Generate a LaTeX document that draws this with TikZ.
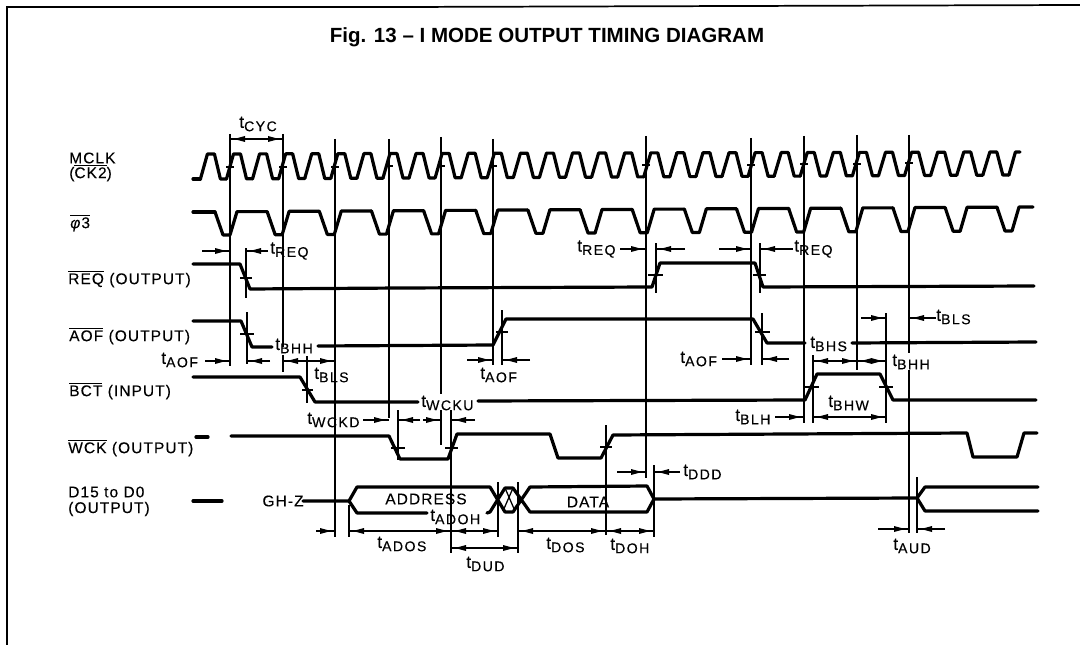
\documentclass[tikz,border=0pt]{standalone}
\usepackage{fontspec}
\setmainfont{Liberation Sans}[LetterSpace=7,FakeBold=0.25]
\newfontfamily\titlefont{Liberation Sans}
\newfontfamily\subfont{Liberation Sans}[LetterSpace=10,FakeBold=0.25]
\newcommand{\tl}[1]{{\fontsize{13}{14}\selectfont t}\raisebox{-2.5pt}{\subfont\fontsize{10.6}{11}\selectfont #1}}
\newcommand{\ovl}[1]{$\overline{\mbox{#1}}$}
\newcommand{\arw}[3]{%
  \draw[thinln] (#1,#3)--(#2,#3);
  \pgfmathsetmacro\adir{(#2>#1)?1:-1}
  \fill ({#2-4*\adir},#3)--({#2-15*\adir},{#3-3})--({#2-15*\adir},{#3+3})--cycle;}
\tikzset{
  sig/.style={line width=2.4pt,line join=round,line cap=round},
  thinln/.style={line width=0.95pt},
  lab/.style={inner sep=0pt,font=\fontsize{11.6}{13}\selectfont},
  tim/.style={inner sep=0pt,font=\fontsize{11.4}{13}\selectfont},
  ttl/.style={inner sep=0pt,font=\titlefont\bfseries\fontsize{15.4}{17}\selectfont},
}
\begin{document}
\begin{tikzpicture}[x=0.75pt,y=-0.75pt]
\useasboundingbox (0,0) rectangle (1080,645);
% frame
\draw[line width=1.3pt] (7,645)--(7,7)--(400,7)--(1080,5);
\node[ttl] (title) at (547,37) {Fig. 13 – I MODE OUTPUT TIMING DIAGRAM};
% signal names
\node[lab,anchor=west] (mclk) at (69,158) {MCLK};
\node[lab,anchor=west] (ck) at (69,173) {(\ovl{CK2})};
\node[lab,anchor=west] (phi) at (70,223) {\ovl{\textit{φ}3}};
\node[lab,anchor=west] (req) at (68,279) {\ovl{REQ} (OUTPUT)};
\node[lab,anchor=west] (aof) at (69,336) {\ovl{AOF} (OUTPUT)};
\node[lab,anchor=west] (bct) at (69,391) {\ovl{BCT} (INPUT)};
\node[lab,anchor=west] (wck) at (68,448) {\ovl{WCK} (OUTPUT)};
\node[lab,anchor=west] (dd) at (68,492) {D15 to D0};
\node[lab,anchor=west] (ddo) at (68,509) {(OUTPUT)};
% MCLK
\foreach \k in {-1,...,29}{
  \pgfmathsetmacro\c{230+26.08*\k}
  \pgfmathsetmacro\hi{154-(\c-200)*0.0025}
  \pgfmathsetmacro\lo{179-(\c-200)*0.005}
  \draw[sig] ({\c-3.5},\lo)--({\c+3.5},\hi)--({\c+10.5},\hi)--({\c+16.5},\lo)--({\c+22.6},\lo);
}
\draw[sig] (193,179)--(200.4,179);
\draw[sig] (1008.9,175)--(1015.4,152)--(1020,152);
% phi3
\foreach \k in {0,...,14}{
  \pgfmathsetmacro\c{215+52.15*\k}
  \pgfmathsetmacro\hi{212-(\c-200)*0.006}
  \pgfmathsetmacro\lo{235-(\c-200)*0.005}
  \draw[sig] (\c,\hi)--({\c+8},\lo)--({\c+15},\lo)--({\c+22},{\hi-0.3})--({\c+52.15},{\hi-0.3});
}
\draw[sig] (193,212)--(215,212);
\draw[sig] (997,207.3)--(1005,231)--(1012,231)--(1019,207)--(1033,207);
% REQ
\draw[sig] (193,264)--(240,264)--(250,289)--(400,288)--(652,287)--(660,263)--(755,263)--(763,287)--(1034,286);
% AOF
\draw[sig] (193,321)--(241,321)--(252,347)--(272,347);
\draw[sig] (318,346)--(493,345)--(506,319)--(753,319)--(767,343)--(805,343);
\draw[sig] (852,343)--(1036,342);
% BCT
\draw[sig] (193,377)--(300,377)--(315,402)--(418,402);
\draw[sig] (478,401)--(805,400)--(817,374)--(880,374)--(893,400)--(1036,400);
% WCK
\draw[sig] (196,437)--(208,437);
\draw[sig] (231,436)--(389,436)--(400,459)--(448,459)--(457,434)--(550,434)--(558,458)--(601,458)--(613,435)--(967,433)--(973,457)--(1017,457)--(1024,433)--(1037,433);
% data bus
\draw[sig] (193,501)--(222,501);
\node[lab] (hz) at (283,501) {GH-Z};
\draw[sig] (303,501)--(349,501)--(357,487)--(490,487)--(505,512)--(513,512)--(530,487)--(647,486)--(654,499)--(647,512)--(530,512)--(513,488)--(505,488)--(490,512);
\draw[sig] (349,501)--(357,513)--(427,513);
\draw[sig] (487,513)--(490,512);
\draw[thinln] (505,488)--(515,511) (513,488)--(503,511);
\draw[sig] (654,499)--(917,498)--(925,487)--(1038,487);
\draw[sig] (917,498)--(925,511)--(1038,511);
\node[lab] (addr) at (426,499) {ADDRESS};
\node[lab] (data) at (588,502) {DATA};
% clock reference lines
\draw[thinln]
 (230,134)--(230,366)
 (283,134)--(283,347) (283,355)--(283,372)
 (335,139)--(335,537)
 (389,139)--(389,418)
 (441,137)--(441,394) (441,410)--(441,445)
 (493,139)--(493,365)
 (646,136)--(646,478)
 (751,138)--(751,365)
 (804,136)--(804,423)
 (857,135)--(857,370)
 (909,135)--(909,353) (909,370)--(909,533);
% crossing ticks on MCLK
\foreach \xx/\yy in {230/167,283/167,335/167,389/166,441/166,493/166,646/165,751/165,804/164,857/164,909/163}
  \draw[thinln] (\xx-4,\yy)--(\xx+4,\yy);
% edge reference lines and ticks
\draw[thinln]
 (246,248)--(246,298) (247,312)--(247,364)
 (240,278)--(252,278) (240,334)--(254,334)
 (502,310)--(502,365) (496,332)--(508,332)
 (656,243)--(656,293) (648,275)--(663,275)
 (760,243)--(760,293) (753,275)--(766,275)
 (762,313)--(762,365) (755,332)--(770,332)
 (307,356)--(307,403) (302,390)--(313,390)
 (813,355)--(813,423) (805,387)--(819,387)
 (886,313)--(886,423) (879,387)--(893,387)
 (398,410)--(398,460) (391,448)--(405,448)
 (451,410)--(451,553) (445,448)--(458,448)
 (606,425)--(606,535) (600,447)--(612,447)
 (654,465)--(654,537)
 (917,477)--(917,533)
 (349,505)--(349,537)
 (498,482)--(498,537)
 (518,482)--(518,553);
% timing labels and arrows
\node[tim] (tcyc) at (258,124) {\tl{CYC}};
\arw{256}{230}{139} \arw{256}{283}{139}
\arw{202}{230}{251} \arw{268}{246}{251}
\node[tim,anchor=west] (treq1) at (270,251) {\tl{REQ}};
\node[tim,anchor=west] (treq2) at (577,249) {\tl{REQ}};
\arw{620}{646}{249} \arw{685}{656}{249}
\arw{719}{751}{249} \arw{793}{760}{249}
\node[tim,anchor=west] (treq3) at (794,249) {\tl{REQ}};
\node[tim,anchor=west] (tbhh1) at (275,346) {\tl{BHH}};
\node[tim,anchor=west] (taof1) at (161,360) {\tl{AOF}};
\arw{205}{230}{361} \arw{270}{247}{361}
\arw{307}{283}{361} \arw{307}{335}{361}
\node[tim,anchor=west] (tbls1) at (314,375) {\tl{BLS}};
\arw{467}{493}{360} \arw{530}{502}{360}
\node[tim,anchor=west] (taof2) at (480,375) {\tl{AOF}};
\node[tim,anchor=west] (twcku) at (421,403) {\tl{WCKU}};
\node[tim,anchor=west] (twckd) at (307,420) {\tl{WCKD}};
\arw{363}{389}{420} \arw{420}{398}{420} \arw{423}{441}{420} \arw{475}{451}{420}
\node[tim,anchor=west] (taof3) at (680,359) {\tl{AOF}};
\arw{722}{751}{359} \arw{789}{762}{359}
\node[tim,anchor=west] (tbhs) at (810,344) {\tl{BHS}};
\arw{836}{813}{361} \arw{836}{857}{361} \arw{871}{857}{361} \arw{871}{886}{361}
\arw{861}{886}{318} \arw{936}{909}{318}
\node[tim,anchor=west] (tbls2) at (936,317) {\tl{BLS}};
\node[tim,anchor=west] (tbhh2) at (892,362) {\tl{BHH}};
\node[tim,anchor=west] (tbhw) at (828,403) {\tl{BHW}};
\arw{850}{813}{417} \arw{850}{886}{417}
\node[tim,anchor=west] (tblh) at (735,417) {\tl{BLH}};
\arw{775}{804}{417}
\arw{617}{646}{472} \arw{680}{654}{472}
\node[tim,anchor=west] (tddd) at (683,472) {\tl{DDD}};
\node[tim,anchor=west] (tadoh) at (430,517) {\tl{ADOH}};
\arw{316}{335}{531}
\arw{400}{349}{531} \arw{400}{451}{531}
\arw{475}{451}{531} \arw{475}{498}{531}
\arw{560}{518}{531} \arw{560}{606}{531}
\arw{630}{606}{531} \arw{630}{654}{531}
\arw{878}{909}{529} \arw{945}{917}{529}
\arw{485}{451}{548} \arw{485}{518}{548}
\node[tim,anchor=west] (tados) at (377,544) {\tl{ADOS}};
\node[tim,anchor=west] (tdud) at (466,564) {\tl{DUD}};
\node[tim,anchor=west] (tdos) at (546,545) {\tl{DOS}};
\node[tim,anchor=west] (tdoh) at (610,546) {\tl{DOH}};
\node[tim,anchor=west] (taud) at (893,546) {\tl{AUD}};
\end{tikzpicture}
\end{document}
